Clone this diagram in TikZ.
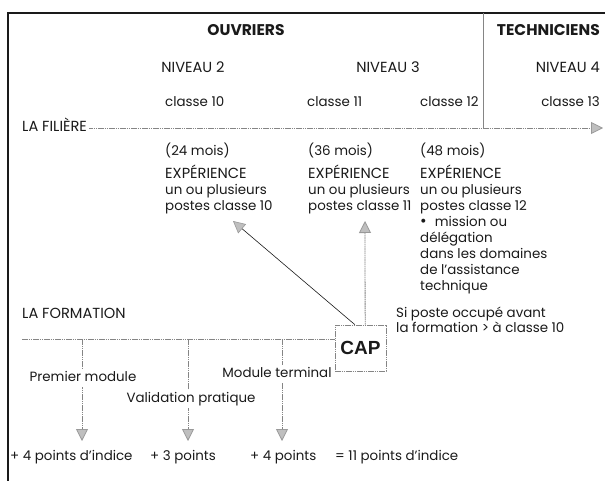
\documentclass[tikz,border=0pt]{standalone}
\usepackage{fontspec}
\setmainfont{Poppins}
\newfontfamily\capfont{Liberation Sans}
\usetikzlibrary{arrows.meta,calc}
\definecolor{ink}{HTML}{1A1A1A}
\definecolor{rulec}{HTML}{858585}
\begin{document}
\begin{tikzpicture}[x=1pt,y=-1pt,
  txt/.style={inner sep=0pt, text height=9.5pt, text depth=3pt, text=ink, font=\fontsize{13.4}{16}\selectfont},
  capt/.style={txt, font=\fontsize{14.6}{17}\selectfont},
  head/.style={txt, font=\fontsize{15.5}{18}\selectfont\bfseries},
  dotl/.style={draw=rulec, line width=0.8pt, dash pattern=on 1.6pt off 0.6pt},
  gtip/.style={-{Triangle[width=12pt,length=12pt,fill=gray!50,color=gray!80]}},
  cut/.style={txt, fill=white, inner ysep=3pt, inner xsep=1pt}
]
\useasboundingbox (0,0) rectangle (605,481);
\fill[white] (0,0) rectangle (605,481);
% frame
\coordinate (tl) at (8,13);
\coordinate (tr) at (605,13);
\coordinate (bl) at (8,481);
\draw[line width=1.5pt, ink] (tr) -- (tl) -- (bl);
% separator
\coordinate (st) at (483,13);
\coordinate (sb) at (483,129);
\draw[rulec, line width=0.6pt] (st) -- (sb);
% headers
\node[head] (ouv) at (246,32) {OUVRIERS};
\node[head, anchor=east] (tech) at (600,32) {TECHNICIENS};
\node[capt] (n2) at (193,69) {NIVEAU 2};
\node[capt] (n3) at (388,69) {NIVEAU 3};
\node[capt, anchor=east] (n4) at (600,69) {NIVEAU 4};
\node[txt, anchor=west] (c10) at (165,103) {classe 10};
\node[txt, anchor=west] (c11) at (307,103) {classe 11};
\node[txt, anchor=west] (c12) at (420,103) {classe 12};
\node[txt, anchor=east] (c13) at (600,103) {classe 13};
% filiere
\node[capt, anchor=west] (fil) at (22,128) {LA FILIÈRE};
\coordinate (filend) at (603,128);
\draw[dotl, gtip] (fil.east) ++(2,0) -- (filend);
% durations
\node[txt, anchor=west] (m24) at (165,152) {(24 mois)};
\node[txt, anchor=west] (m36) at (308,152) {(36 mois)};
\node[txt, anchor=west] (m48) at (420,152) {(48 mois)};
% column 1
\node[capt, anchor=west] (e1a) at (165,175) {EXPÉRIENCE};
\node[txt, anchor=west] (e1b) at (165,191) {un ou plusieurs};
\node[txt, anchor=west] (e1c) at (165,207) {postes classe 10};
% column 2
\node[capt, anchor=west] (e2a) at (308,175) {EXPÉRIENCE};
\node[txt, anchor=west] (e2b) at (308,191) {un ou plusieurs};
\node[txt, anchor=west] (e2c) at (308,207) {postes classe 11};
% column 3
\node[capt, anchor=west] (e3a) at (420,175) {EXPÉRIENCE};
\node[txt, anchor=west] (e3b) at (420,191) {un ou plusieurs};
\node[txt, anchor=west] (e3c) at (420,207) {postes classe 12};
\node[txt, anchor=west] (e3d) at (420,223) {{\fontsize{16}{16}\selectfont\textbullet}\hspace{0.6em}mission ou};
\node[txt, anchor=west] (e3e) at (420,239) {délégation};
\node[txt, anchor=west] (e3f) at (420,255) {dans les domaines};
\node[txt, anchor=west] (e3g) at (420,271) {de l'assistance};
\node[txt, anchor=west] (e3h) at (420,287) {technique};
% note
\node[txt, anchor=west] (si1) at (396,314) {Si poste occupé avant};
\node[txt, anchor=west] (si2) at (396,329) {la formation > à classe 10};
% formation
\node[capt, anchor=west] (form) at (22,315) {LA FORMATION};
\node[draw=rulec, line width=0.8pt, dash pattern=on 1.6pt off 0.6pt, minimum width=51pt, minimum height=46pt, inner sep=0pt, text=ink, font=\capfont\bfseries\fontsize{19}{20}\selectfont] (cap) at (360.5,348) {CAP};
\coordinate (fl) at (22,339);
\draw[dotl] (fl) -- (cap.west |- fl);
% arrows to experience
\coordinate (a1s) at ($(cap.north west)!0.39!(cap.north east)$);
\coordinate (a1e) at (233,221);
\coordinate (a2s) at ($(cap.north west)!0.59!(cap.north east)$);
\coordinate (a2e) at (365,221);
\draw[ink, line width=0.6pt, gtip] (a1s) -- (a1e);
\draw[dotl, gtip] (a2s) -- (a2e);
% verticals
\coordinate (v1t) at (82,339);
\coordinate (v1b) at (82,441);
\coordinate (v2t) at (188,339);
\coordinate (v2b) at (188,441);
\coordinate (v3t) at (282,339);
\coordinate (v3b) at (282,441);
\draw[dotl, gtip] (v1t) -- (v1b);
\draw[dotl, gtip] (v2t) -- (v2b);
\draw[dotl, gtip] (v3t) -- (v3b);
\node[cut] (pm) at (83,378) {Premier module};
\node[cut] (vp) at (191,399) {Validation pratique};
\node[cut] (mt) at (277,374) {Module terminal};
% results
\node[txt, anchor=west] (r1) at (10,457) {+ 4 points d'indice};
\node[txt, anchor=west] (r2) at (150,457) {+ 3 points};
\node[txt, anchor=west] (r3) at (250,457) {+ 4 points};
\node[txt, anchor=west] (r4) at (335,457) {= 11 points d'indice};
\end{tikzpicture}
\end{document}
